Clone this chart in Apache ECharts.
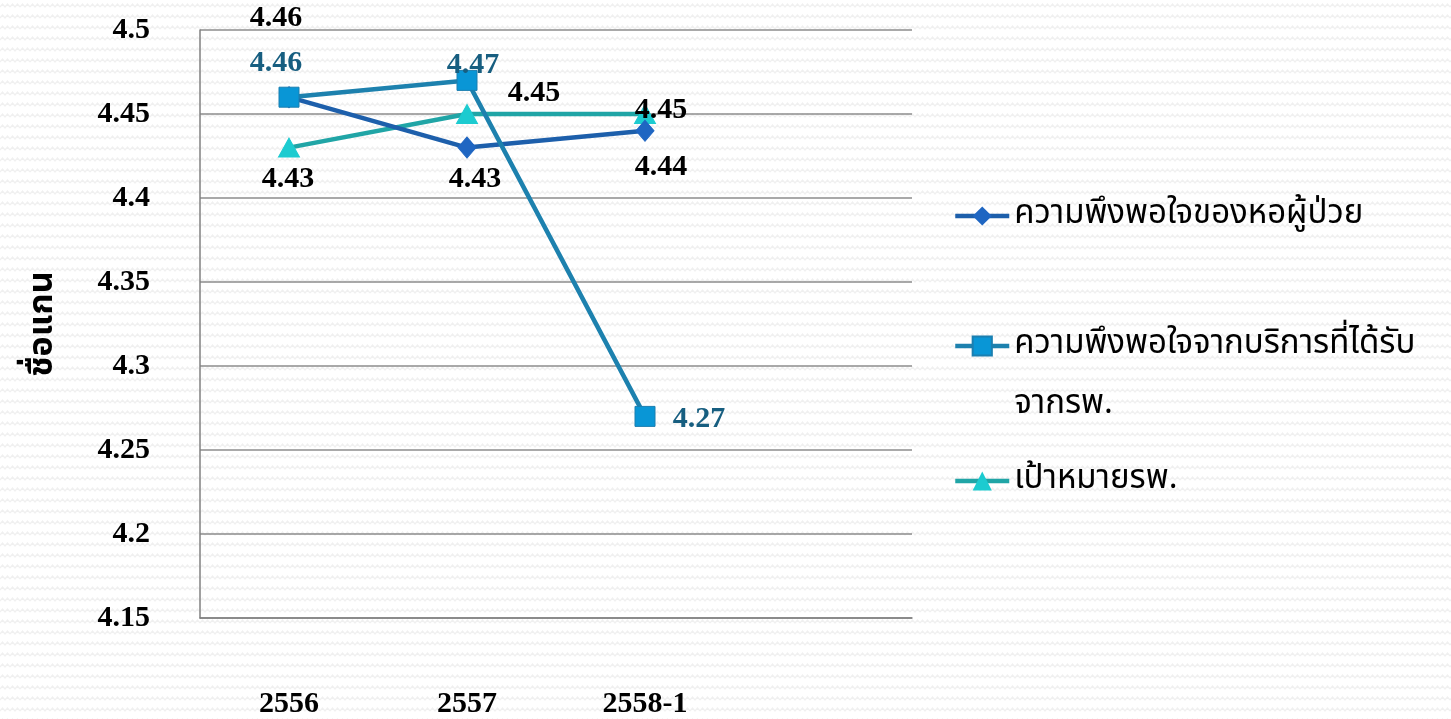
<!DOCTYPE html>
<html>
<head>
<meta charset="utf-8">
<script src="https://cdn.jsdelivr.net/npm/echarts@6/dist/echarts.min.js"></script>
<style>
  html, body { margin: 0; padding: 0; width: 1451px; height: 719px; overflow: hidden; }
  body {
    background-color: #ffffff;
    background-image: url("data:image/svg+xml;utf8,<svg xmlns='http://www.w3.org/2000/svg' width='10' height='11'><path d='M0 7 L2.5 4 L5 7 L7.5 4 L10 7' fill='none' stroke='%23f0f0f0' stroke-width='1.2'/></svg>");
  }
  #chart { width: 1451px; height: 719px; }
</style>
</head>
<body>
<div id="chart"></div>
<script>
// Year categories (the last slot is left empty on the axis)
const categories = ['2556', '2557', '2558-1', ''];

// Satisfaction scores per year
const wardSatisfaction = [4.46, 4.43, 4.44];
const hospitalServiceSatisfaction = [4.46, 4.47, 4.27];
const hospitalTarget = [4.43, 4.45, 4.45];

const seriesNames = [
  'ความพึงพอใจของหอผู้ป่วย',
  'ความพึงพอใจจากบริการที่ได้รับจากรพ.',
  'เป้าหมายรพ.'
];

const yAxisName = 'ชื่อแกน';

// Label offsets (pixels from each point) keep the labels clear of each other
const wardLabelOffsets = [[-13, -79], [8, 32], [16, 36]];
const serviceLabelOffsets = [[-13, -34], [6, -15], [54, 3]];
const targetLabelOffsets = [[-1, 32], [67, -21], [16, -4]];

const numFont = '"Liberation Serif", "Times New Roman", serif';
const thaiFont = '"Noto Sans Thai", "Tahoma", "DejaVu Sans", "Noto Sans", sans-serif';

function withLabels(values, offsets, color) {
  return values.map((v, i) => ({
    value: v,
    label: {
      show: true,
      position: 'inside',
      offset: offsets[i],
      color: color,
      fontFamily: numFont,
      fontWeight: 'bold',
      fontSize: 30,
      formatter: (p) => String(p.value)
    }
  }));
}

const chart = echarts.init(document.getElementById('chart'), null, { renderer: 'canvas' });

const legendBase = {
  orient: 'vertical',
  left: 948,
  itemWidth: 54,
  itemHeight: 24,
  itemGap: 0,
  lineStyle: { width: 4.5 },
  textStyle: {
    fontFamily: thaiFont,
    fontSize: 33,
    color: '#000000',
    lineHeight: 60
  }
};

chart.setOption({
  backgroundColor: 'transparent',
  animation: false,
  grid: { left: 200, right: 539, top: 30, bottom: 101, containLabel: false },
  legend: [
    Object.assign({}, legendBase, {
      data: [seriesNames[0]],
      top: 181
    }),
    Object.assign({}, legendBase, {
      data: [seriesNames[1]],
      top: 251,
      // empty first line keeps the marker level with the first text line
      formatter: () => '\nความพึงพอใจจากบริการที่ได้รับ\nจากรพ.'
    }),
    Object.assign({}, legendBase, {
      data: [seriesNames[2]],
      top: 446
    })
  ],
  xAxis: {
    type: 'category',
    data: categories,
    boundaryGap: true,
    axisLine: { show: true, lineStyle: { color: '#808080', width: 1.5 } },
    axisTick: { show: false },
    axisLabel: {
      margin: 71,
      color: '#000000',
      fontFamily: numFont,
      fontWeight: 'bold',
      fontSize: 30,
      interval: 0
    },
    splitLine: { show: false }
  },
  yAxis: {
    type: 'value',
    min: 4.15,
    max: 4.5,
    interval: 0.05,
    name: yAxisName,
    nameLocation: 'middle',
    nameRotate: 90,
    nameGap: 138,
    nameTextStyle: {
      fontFamily: thaiFont,
      fontWeight: 'bold',
      fontSize: 34,
      color: '#000000'
    },
    axisLine: { show: true, lineStyle: { color: '#808080', width: 1.5 } },
    axisTick: { show: false },
    axisLabel: {
      margin: 50,
      color: '#000000',
      fontFamily: numFont,
      fontWeight: 'bold',
      fontSize: 30,
      formatter: (v) => String(parseFloat(v.toFixed(2)))
    },
    splitLine: { show: true, lineStyle: { color: '#8c8c8c', width: 1.5 } }
  },
  series: [
    {
      name: seriesNames[0],
      type: 'line',
      data: withLabels(wardSatisfaction, wardLabelOffsets, '#000000'),
      symbol: 'diamond',
      symbolSize: [18, 21],
      lineStyle: { color: '#1d5fab', width: 4.5 },
      itemStyle: { color: '#1f66c2', borderColor: '#1f66c2' },
      z: 3
    },
    {
      name: seriesNames[1],
      type: 'line',
      data: withLabels(hospitalServiceSatisfaction, serviceLabelOffsets, '#175e80'),
      symbol: 'rect',
      symbolSize: 20,
      lineStyle: { color: '#1d81ae', width: 4.5 },
      itemStyle: { color: '#0996d6', borderColor: '#1b7fb0', borderWidth: 1 },
      z: 4
    },
    {
      name: seriesNames[2],
      type: 'line',
      data: withLabels(hospitalTarget, targetLabelOffsets, '#000000'),
      symbol: 'triangle',
      symbolSize: [21, 19],
      lineStyle: { color: '#20a5a6', width: 4.5 },
      itemStyle: { color: '#1ccbd0', borderColor: '#1ccbd0' },
      z: 2
    }
  ]
});
</script>
</body>
</html>
